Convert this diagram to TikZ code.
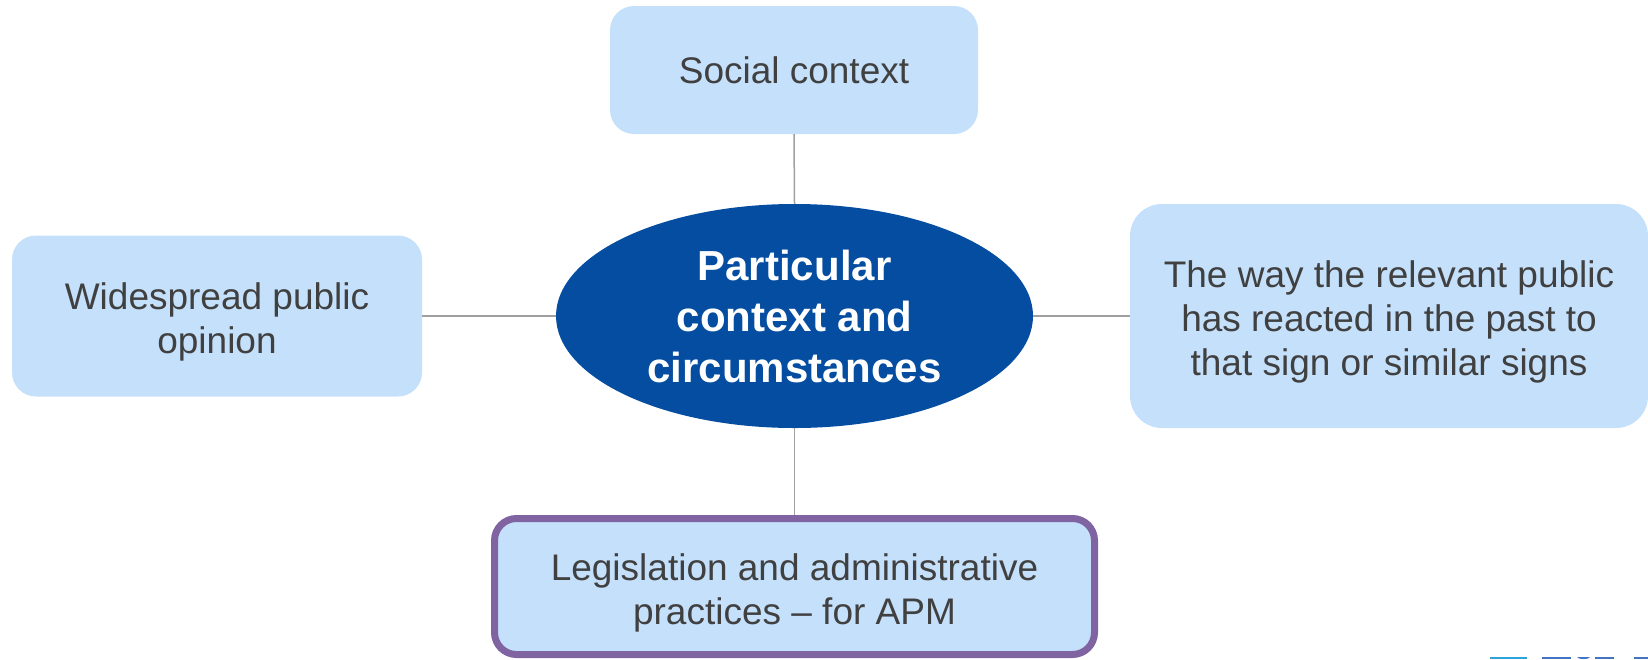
\documentclass[tikz,border=0pt]{standalone}
\usepackage{fontspec}
\setmainfont{Liberation Sans}
\usetikzlibrary{shapes.geometric}
\definecolor{boxfill}{HTML}{C5E0FB}
\definecolor{corefill}{HTML}{054DA0}
\definecolor{txtgray}{HTML}{404040}
\definecolor{linegray}{HTML}{A0A0A0}
\definecolor{apmpurple}{HTML}{8064A2}
\definecolor{logoblue}{HTML}{4472C4}
\definecolor{logocyan}{HTML}{2EA3DC}
% multi-line text sits a bit low in its box
\newcommand{\lowstrut}{\rule{0pt}{39pt}}
\begin{document}
\begin{tikzpicture}
% 1pt = 1px of the 1648x659 reference, y runs down
[x=1pt,y=-1pt,
 factor/.style={fill=boxfill,rounded corners=24pt,text=txtgray,align=center,
   inner sep=0pt,font=\fontsize{37}{44}\selectfont},
 core/.style={ellipse,fill=corefill,text=white,align=center,inner sep=0pt,
   font=\bfseries\fontsize{42}{51}\selectfont},
 link/.style={draw=linegray,line width=1.5pt}]
\useasboundingbox (0,0) rectangle (1648,659);
% centre
\node[core,minimum width=477pt,minimum height=224pt] (context) at (794.5,316)
  {Particular\\context and\\circumstances};
% the four factors
\node[factor,minimum width=368pt,minimum height=128pt] (social) at (794,70)
  {Social context};
\node[factor,minimum width=410pt,minimum height=161pt] (opinion) at (217,316)
  {\lowstrut Widespread public\\opinion};
\node[factor,rounded corners=32pt,minimum width=518pt,minimum height=224pt] (reaction) at (1389,316)
  {\lowstrut The way the relevant public\\has reacted in the past to\\that sign or similar signs};
\node[factor,draw=apmpurple,line width=7pt,rounded corners=22pt,
  minimum width=600pt,minimum height=136pt] (legislation) at (794.5,586.5)
  {\lowstrut Legislation and administrative\\practices -- for APM};
% connectors
\draw[link] (social.south) -- (context.north);
\draw[link] (opinion.east) -- (context.west);
\draw[link] (context.east) -- (reaction.west);
\draw[link] (context.south) -- (legislation.north);
% cut-off logo at the bottom right
\fill[logocyan] (1490,656.5) rectangle (1527,659);
\fill[logoblue] (1542,656.5) rectangle (1571,659);
\fill[logoblue] (1577,657) arc (180:0:6.5 and 2) -- cycle;
\fill[logoblue] (1595,656.5) rectangle (1614,659);
\fill[logoblue] (1634,656.5) rectangle (1648,659);
\end{tikzpicture}
\end{document}
